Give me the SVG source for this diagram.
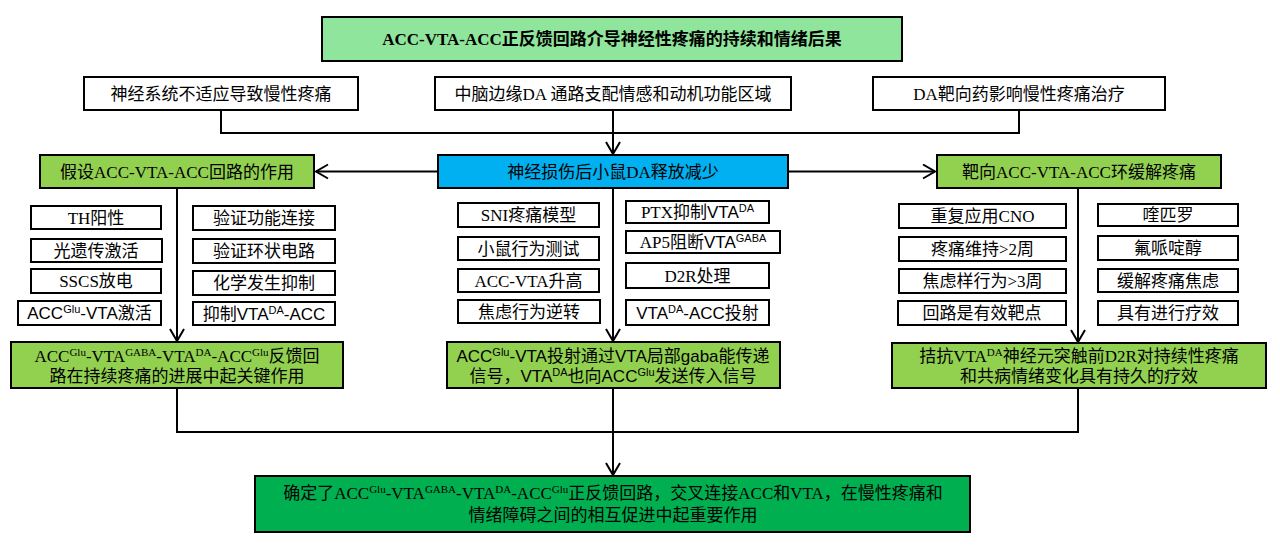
<svg xmlns="http://www.w3.org/2000/svg" width="1280" height="546" viewBox="0 0 1280 546">
<defs>
<style>
.box{fill:#ffffff;stroke:#000;stroke-width:2}
.title{fill:#8EE59B;stroke:#000;stroke-width:2}
.blue{fill:#00B0F0;stroke:#000;stroke-width:2}
.green{fill:#92D050;stroke:#000;stroke-width:2}
.dgreen{fill:#00B050;stroke:#000;stroke-width:2}
.t{font-family:"Liberation Serif","Noto Sans CJK SC",serif;font-size:17px;text-anchor:middle;fill:#000}
.s{font-family:"Liberation Sans","Noto Sans CJK SC",sans-serif}
.b{font-weight:bold}
.sup{font-size:11px}
.ln{fill:none;stroke:#000;stroke-width:2}
</style>
<marker id="arr" markerUnits="userSpaceOnUse" markerWidth="16" markerHeight="18" refX="13" refY="8" orient="auto">
<path d="M1,1 L13,8 L1,15" fill="none" stroke="#000" stroke-width="2"/>
</marker>
</defs>
<rect width="1280" height="546" fill="#fff"/>

<g id="connectors">
<polyline class="ln" points="221,110 221,133 1019,133 1019,110"/>
<line class="ln" x1="613" y1="110" x2="613" y2="154" marker-end="url(#arr)"/>
<line class="ln" x1="438" y1="171.5" x2="316" y2="171.5" marker-end="url(#arr)"/>
<line class="ln" x1="788" y1="171.5" x2="935" y2="171.5" marker-end="url(#arr)"/>
<line class="ln" x1="177" y1="188" x2="177" y2="341" marker-end="url(#arr)"/>
<line class="ln" x1="613" y1="188" x2="613" y2="341" marker-end="url(#arr)"/>
<line class="ln" x1="1078" y1="188" x2="1078" y2="342" marker-end="url(#arr)"/>
<polyline class="ln" points="177,388 177,432 1078,432 1078,388"/>
<line class="ln" x1="613" y1="388" x2="613" y2="475" marker-end="url(#arr)"/>
</g>

<g id="title">
<rect class="title" x="322" y="17" width="580" height="44"/>
<text class="t b" x="612" y="45">ACC-VTA-ACC正反馈回路介导神经性疼痛的持续和情绪后果</text>
</g>

<g id="bg1"><rect class="box" x="84" y="77" width="274" height="33"/><text class="t" x="221" y="99.5">神经系统不适应导致慢性疼痛</text></g>
<g id="bg2"><rect class="box" x="435" y="77" width="356" height="33"/><text class="t" x="613" y="99.5">中脑边缘DA 通路支配情感和动机功能区域</text></g>
<g id="bg3"><rect class="box" x="873" y="77" width="292" height="33"/><text class="t" x="1019" y="99.5">DA靶向药影响慢性疼痛治疗</text></g>

<g id="hyp"><rect class="green" x="40" y="155" width="274" height="33"/><text class="t" x="177" y="177.5">假设ACC-VTA-ACC回路的作用</text></g>
<g id="center"><rect class="blue" x="438" y="155" width="350" height="33"/><text class="t" x="613" y="177.5">神经损伤后小鼠DA释放减少</text></g>
<g id="target"><rect class="green" x="937" y="155" width="284" height="33"/><text class="t" x="1079" y="177.5">靶向ACC-VTA-ACC环缓解疼痛</text></g>

<!-- left column -->
<g id="l1"><rect class="box" x="31" y="206" width="130" height="23"/><text class="t" x="96" y="223.5">TH阳性</text></g>
<g id="l2"><rect class="box" x="31" y="239" width="131" height="23"/><text class="t" x="96" y="256.5">光遗传激活</text></g>
<g id="l3"><rect class="box" x="31" y="269" width="130" height="24"/><text class="t" x="96" y="287">SSCS放电</text></g>
<g id="l4"><rect class="box" x="18" y="301" width="143" height="24"/><text class="t s" x="89.5" y="319">ACC<tspan class="sup" dy="-6">Glu</tspan><tspan dy="6">-VTA激活</tspan></text></g>
<g id="l5"><rect class="box" x="193" y="206" width="142" height="24"/><text class="t" x="264" y="224">验证功能连接</text></g>
<g id="l6"><rect class="box" x="193" y="239" width="142" height="24"/><text class="t" x="264" y="257">验证环状电路</text></g>
<g id="l7"><rect class="box" x="193" y="271" width="142" height="24"/><text class="t" x="264" y="289">化学发生抑制</text></g>
<g id="l8"><rect class="box" x="193" y="302" width="142" height="23"/><text class="t s" x="264" y="319.5">抑制VTA<tspan class="sup" dy="-6">DA</tspan><tspan dy="6">-ACC</tspan></text></g>

<!-- center column -->
<g id="c1"><rect class="box" x="458" y="203" width="141" height="24"/><text class="t" x="528.5" y="221">SNI疼痛模型</text></g>
<g id="c2"><rect class="box" x="458" y="237" width="141" height="23"/><text class="t" x="528.5" y="254.5">小鼠行为测试</text></g>
<g id="c3"><rect class="box" x="458" y="269" width="141" height="23"/><text class="t" x="528.5" y="286.5">ACC-VTA升高</text></g>
<g id="c4"><rect class="box" x="458" y="300" width="142" height="23"/><text class="t" x="529" y="317.5">焦虑行为逆转</text></g>
<g id="c5"><rect class="box" x="626" y="201" width="143" height="22"/><text class="t" x="697.5" y="218">PTX抑制<tspan class="s">VTA</tspan><tspan class="s sup" dy="-6">DA</tspan></text></g>
<g id="c6"><rect class="box" x="626" y="231" width="154" height="22"/><text class="t" x="703" y="248">AP5阻断<tspan class="s">VTA</tspan><tspan class="s sup" dy="-6">GABA</tspan></text></g>
<g id="c7"><rect class="box" x="626" y="263" width="143" height="25"/><text class="t" x="697.5" y="281.5">D2R处理</text></g>
<g id="c8"><rect class="box" x="626" y="300" width="143" height="25"/><text class="t s" x="697.5" y="318.5">VTA<tspan class="sup" dy="-6">DA</tspan><tspan dy="6">-ACC投射</tspan></text></g>

<!-- right column -->
<g id="r1"><rect class="box" x="899" y="204" width="167" height="24"/><text class="t" x="982.5" y="222">重复应用CNO</text></g>
<g id="r2"><rect class="box" x="899" y="237" width="167" height="24"/><text class="t" x="982.5" y="255">疼痛维持&gt;2周</text></g>
<g id="r3"><rect class="box" x="899" y="269" width="167" height="24"/><text class="t" x="982.5" y="287">焦虑样行为&gt;3周</text></g>
<g id="r4"><rect class="box" x="898" y="301" width="168" height="24"/><text class="t" x="982" y="319">回路是有效靶点</text></g>
<g id="r5"><rect class="box" x="1098" y="204" width="140" height="22"/><text class="t" x="1168" y="221">喹匹罗</text></g>
<g id="r6"><rect class="box" x="1098" y="236" width="140" height="24"/><text class="t" x="1168" y="254">氟哌啶醇</text></g>
<g id="r7"><rect class="box" x="1098" y="269" width="140" height="23"/><text class="t" x="1168" y="286.5">缓解疼痛焦虑</text></g>
<g id="r8"><rect class="box" x="1098" y="301" width="140" height="24"/><text class="t" x="1168" y="319">具有进行疗效</text></g>

<!-- result boxes -->
<g id="resL"><rect class="green" x="11" y="342" width="332" height="46"/>
<text class="t" x="177" y="362">ACC<tspan class="sup" dy="-6">Glu</tspan><tspan dy="6">-VTA</tspan><tspan class="sup" dy="-6">GABA</tspan><tspan dy="6">-VTA</tspan><tspan class="sup" dy="-6">DA</tspan><tspan dy="6">-ACC</tspan><tspan class="sup" dy="-6">Glu</tspan><tspan dy="6">反馈回</tspan></text>
<text class="t" x="177" y="382">路在持续疼痛的进展中起关键作用</text></g>

<g id="resC"><rect class="green" x="447" y="342" width="333" height="46"/>
<text class="t s" x="613" y="362">ACC<tspan class="sup" dy="-6">Glu</tspan><tspan dy="6">-VTA投射通过VTA局部gaba能传递</tspan></text>
<text class="t s" x="613" y="382">信号，VTA<tspan class="sup" dy="-6">DA</tspan><tspan dy="6">也向ACC</tspan><tspan class="sup" dy="-6">Glu</tspan><tspan dy="6">发送传入信号</tspan></text></g>

<g id="resR"><rect class="green" x="892" y="343" width="374" height="45"/>
<text class="t" x="1079" y="362">拮抗VTA<tspan class="sup" dy="-6">DA</tspan><tspan dy="6">神经元突触前D2R对持续性疼痛</tspan></text>
<text class="t" x="1079" y="382">和共病情绪变化具有持久的疗效</text></g>

<g id="final"><rect class="dgreen" x="255" y="476" width="715" height="56"/>
<text class="t" x="613" y="499">确定了ACC<tspan class="sup" dy="-6">Glu</tspan><tspan dy="6">-VTA</tspan><tspan class="sup" dy="-6">GABA</tspan><tspan dy="6">-VTA</tspan><tspan class="sup" dy="-6">DA</tspan><tspan dy="6">-ACC</tspan><tspan class="sup" dy="-6">Glu</tspan><tspan dy="6">正反馈回路，交叉连接ACC和VTA，在慢性疼痛和</tspan></text>
<text class="t" x="613" y="521">情绪障碍之间的相互促进中起重要作用</text></g>
</svg>
